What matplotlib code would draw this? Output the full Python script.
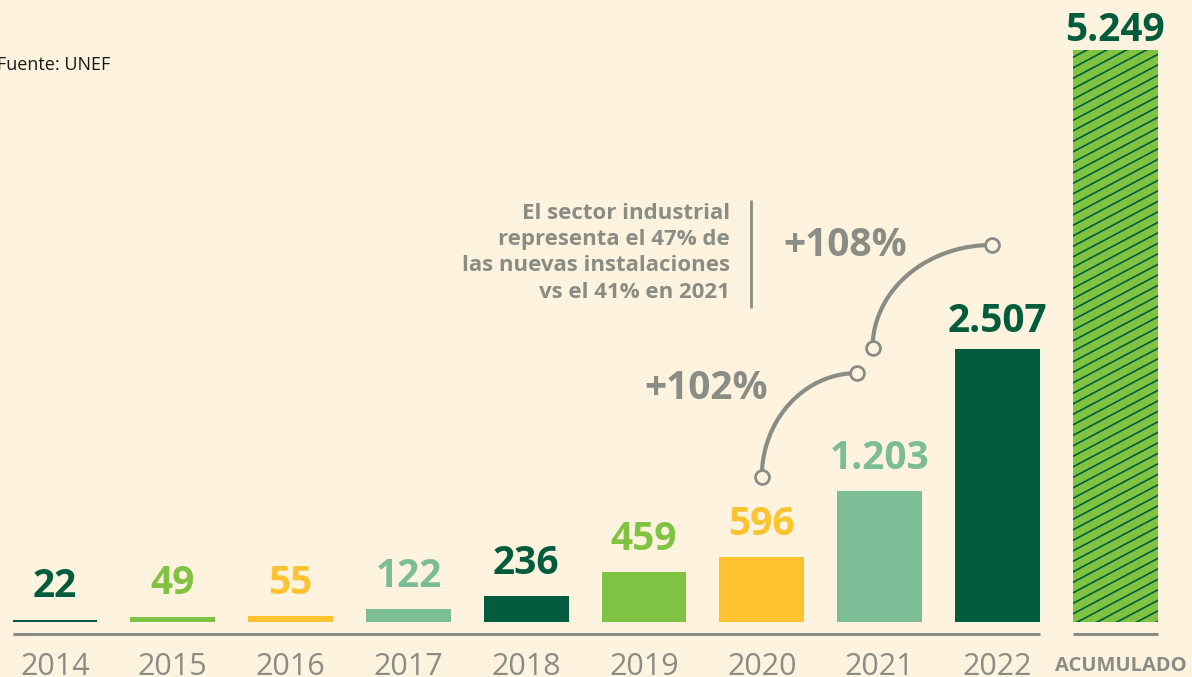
import numpy as np
import matplotlib.pyplot as plt
from matplotlib.lines import Line2D

# datos (MW, autoconsumo instalado)
years = ['2014', '2015', '2016', '2017', '2018', '2019', '2020', '2021', '2022']
values = [22, 49, 55, 122, 236, 459, 596, 1203, 2507]
value_labels = ['22', '49', '55', '122', '236', '459', '596', '1.203', '2.507']
total_label = 'ACUMULADO'
total_value = 5249
total_text = '5.249'

note_text = ("El sector industrial\nrepresenta el 47% de\n"
             "las nuevas instalaciones\nvs el 41% en 2021")
growth_labels = ['+102%', '+108%']
source_text = 'Fuente: UNEF'

# estilo
BG = '#FEF3DE'
DARK = '#005C3C'
LIGHT = '#80C342'
YELLOW = '#FFC230'
SAGE = '#7CBD95'
GRAY = '#8A8D86'
bar_colors = [DARK, LIGHT, YELLOW, SAGE, DARK, LIGHT, YELLOW, SAGE, DARK]
label_colors = bar_colors
label_offsets = [16, 16, 16, 16, 16, 16, 16, 16, 12]  # pt sobre la barra
FONT = ['Open Sans', 'DejaVu Sans']
plt.rcParams['font.family'] = FONT

fig = plt.figure(figsize=(11.92, 6.77), dpi=100, facecolor=BG)
ax = fig.add_axes([0, 0, 1, 1])
ax.set_facecolor(BG)
ax.set_xlim(-0.467, 9.652)
ax.set_ylim(-505, 5712)
ax.axis('off')

width = 0.72
x = np.arange(len(years))
bars = ax.bar(x, values, width=width, color=bar_colors, zorder=3)
for xi, v, lab, c, off in zip(x, values, value_labels, label_colors, label_offsets):
    ax.annotate(lab, (xi, v), xytext=(0, off), textcoords='offset points',
                ha='center', va='baseline', fontsize=28, fontweight='bold', color=c)
    ax.text(xi, -410, years[xi], ha='center', va='center', fontsize=22, color=GRAY)

# barra acumulada con rayado
xt = len(years)
tbar = ax.bar([xt], [total_value], width=width, color=LIGHT, zorder=3)[0]
ax.annotate(total_text, (xt, total_value), xytext=(0, 7), textcoords='offset points',
            ha='center', va='baseline', fontsize=28, fontweight='bold', color=DARK)
ax.text(xt + 0.05, -405, total_label, ha='center', va='center', fontsize=14.5,
        fontweight='bold', color=GRAY)

fig.canvas.draw()
bb = tbar.get_window_extent()
slope = 0.53
for c in np.arange(bb.y0 - slope * bb.width - 10, bb.y1 + 10, 10.5):
    ln = Line2D([bb.x0, bb.x1], [c, c + slope * bb.width], transform=None,
                color=DARK, lw=1.2, zorder=4)
    ln.set_clip_path(tbar)
    fig.add_artist(ln)

# lineas base
ax.plot([-width / 2, len(years) - 1 + width / 2], [-110, -110], color=GRAY, lw=2.2,
        solid_capstyle='butt', zorder=2)
ax.plot([xt - width / 2, xt + width / 2], [-110, -110], color=GRAY, lw=2.2,
        solid_capstyle='butt', zorder=2)

# conectores de crecimiento
def connector(x0, y0, x1, y1):
    t = np.linspace(0, np.pi / 2, 60)
    xs = x1 - (x1 - x0) * np.cos(t)
    ys = y0 + (y1 - y0) * np.sin(t)
    ax.plot(xs, ys, color=GRAY, lw=3, zorder=5, solid_capstyle='butt')
    ax.plot([x0, x1], [y0, y1], 'o', ms=10, mfc=BG, mec=GRAY, mew=2, zorder=6)

connector(6.0, 1331, 6.81, 2286)
connector(6.94, 2516, 7.95, 3462)
ax.text(5.53, 2140, growth_labels[0], ha='center', va='center', fontsize=28,
        fontweight='bold', color=GRAY)
ax.text(6.71, 3453, growth_labels[1], ha='center', va='center', fontsize=28,
        fontweight='bold', color=GRAY)

# nota
ax.text(5.73, 3390, note_text, ha='right', va='center', fontsize=16,
        fontweight='bold', color=GRAY, linespacing=1.32)
ax.plot([5.91, 5.91], [2883, 3875], color=GRAY, lw=2, solid_capstyle='butt')

ax.text(-0.49, 5115, source_text, ha='left', va='center', fontsize=13, color='#1A1A1A')

fig.savefig('out.png', dpi=100, facecolor=BG)
